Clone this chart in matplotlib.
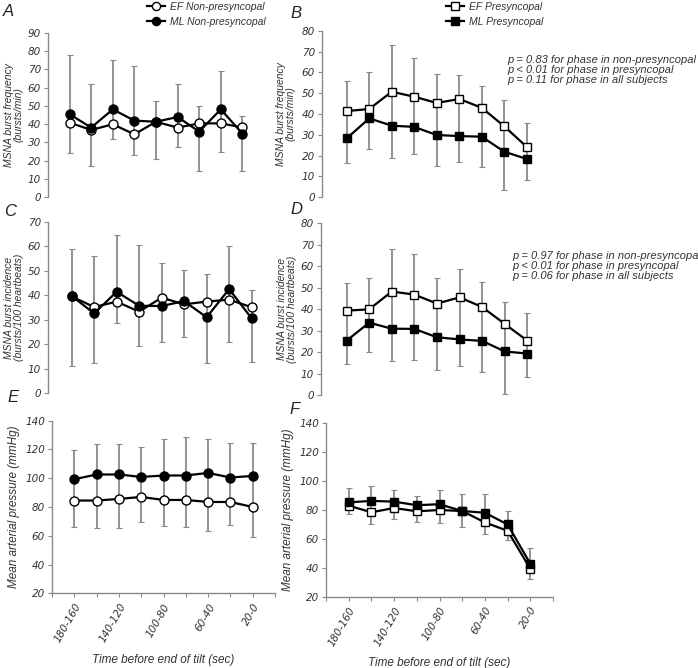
import numpy as np
import matplotlib
matplotlib.use('Agg')
import matplotlib.pyplot as plt

plt.rcParams['font.family'] = ['Liberation Sans', 'DejaVu Sans']
plt.rcParams['font.style'] = 'italic'
plt.rcParams['font.size'] = 8
plt.rcParams['text.color'] = '#333333'

# phases (time before end of tilt, sec)
phases = ['180-160', '160-140', '140-120', '120-100', '100-80',
          '80-60', '60-40', '40-20', '20-0']

# A - MSNA burst frequency, non-presyncopal
a_ef = [40.8, 36.8, 39.9, 34.4, 41.3, 38.1, 40.4, 40.4, 38.2]
a_ml = [45.4, 38.1, 48.1, 41.9, 41.3, 43.9, 35.9, 48.1, 34.8]
a_bar_lo = [24.1, 17.2, 31.8, 23.0, 21.0, 27.3, 14.5, 24.9, 14.5]
a_bar_hi = [78.1, 62.2, 75.0, 72.0, 52.7, 62.0, 50.1, 69.0, 44.6]

# B - MSNA burst frequency, presyncopal
b_ef = [41.4, 42.4, 50.7, 48.3, 45.3, 47.2, 43.0, 34.1, 24.2]
b_ml = [28.3, 37.9, 34.4, 33.8, 29.9, 29.4, 29.1, 21.9, 18.4]
b_bar_lo = [16.3, 23.2, 18.7, 20.6, 15.0, 16.8, 14.4, 3.4, 8.2]
b_bar_hi = [55.7, 60.0, 73.1, 66.9, 59.0, 58.6, 53.3, 46.9, 35.8]

# C - MSNA burst incidence, non-presyncopal
c_ef = [39.5, 35.2, 37.4, 33.3, 39.0, 36.3, 37.4, 38.2, 35.1]
c_ml = [39.7, 32.6, 41.4, 35.7, 35.6, 37.6, 31.0, 42.5, 30.6]
c_bar_lo = [11.1, 12.2, 28.5, 19.3, 20.8, 22.8, 12.5, 20.8, 12.6]
c_bar_hi = [58.8, 56.0, 64.5, 60.5, 53.0, 50.1, 48.6, 59.9, 42.0]

# D - MSNA burst incidence, presyncopal
d_ef = [39.3, 39.9, 48.2, 46.8, 42.6, 45.5, 41.0, 33.1, 25.3]
d_ml = [25.3, 33.7, 30.9, 30.8, 26.9, 25.9, 25.2, 20.3, 19.3]
d_bar_lo = [14.4, 19.9, 15.7, 16.2, 11.5, 13.7, 10.9, 0.6, 8.5]
d_bar_hi = [52.0, 54.4, 67.9, 65.6, 54.7, 58.7, 52.7, 43.2, 38.2]

# E - mean arterial pressure, non-presyncopal
e_ef = [84.5, 84.5, 85.6, 87.0, 84.9, 84.9, 83.5, 83.5, 80.0]
e_ml = [99.3, 102.6, 102.6, 100.9, 101.9, 101.9, 103.7, 100.5, 101.6]
e_bar_lo = [66.4, 65.2, 65.2, 69.4, 67.1, 65.9, 63.1, 67.7, 59.4]
e_bar_hi = [119.3, 123.7, 123.9, 122.0, 127.5, 128.4, 127.0, 124.4, 124.4]

# F - mean arterial pressure, presyncopal
f_ef = [83.0, 78.4, 81.4, 79.1, 80.0, 79.3, 71.4, 65.6, 39.3]
f_ml = [85.3, 86.3, 85.8, 83.3, 84.0, 79.3, 78.1, 70.0, 42.8]
f_bar_lo = [77.2, 70.2, 73.7, 71.9, 71.2, 68.4, 63.7, 59.1, 32.3]
f_bar_hi = [95.1, 96.7, 93.7, 89.5, 93.7, 90.9, 90.9, 79.5, 54.0]

W, H = 698, 668
fig = plt.figure(figsize=(W / 100, H / 100), dpi=100)

GRAY = '#8a8a8a'
TICKFONT = ['DejaVu Sans']


def box(left, top, right, bottom):
    # pixel box -> figure fraction
    return [left / W, 1 - bottom / H, (right - left) / W, (bottom - top) / H]


def panel(px, ef, ml, lo, hi, ylim, ystep, marker, ylabel, label_x,
          xlim=(-1, 9), xaxis=False):
    ax = fig.add_axes(box(*px))
    x = np.arange(len(ef))
    lo = np.array(lo)
    hi = np.array(hi)
    mid = (lo + hi) / 2
    eb = ax.errorbar(x, mid, yerr=(hi - lo) / 2, fmt='none', ecolor=GRAY,
                     elinewidth=1.3, capsize=2.2, capthick=0.8, zorder=1)
    for cap in eb[1]:
        cap.set_color('#555555')
    ms = 6.5 if marker == 'o' else 6.0
    l_ef, = ax.plot(x, ef, '-', marker=marker, color='k', lw=1.6, ms=ms,
                    mfc='white', mec='k', mew=1.0, zorder=3)
    l_ml, = ax.plot(x, ml, '-', marker=marker, color='k', lw=1.6, ms=ms,
                    mfc='k', mec='k', mew=1.0, zorder=3)
    ax.set_xlim(*xlim)
    ax.set_ylim(*ylim)
    ax.set_yticks(np.arange(ylim[0], ylim[1] + 1, ystep))
    for s in ['top', 'right']:
        ax.spines[s].set_visible(False)
    ax.spines['left'].set_color(GRAY)
    ax.spines['left'].set_linewidth(1.0)
    ax.tick_params(axis='y', direction='out', length=3, width=0.8, color=GRAY,
                   labelcolor='#333333', labelsize=7.5, pad=2)
    for lab in ax.get_yticklabels():
        lab.set_fontfamily(TICKFONT)
    two_lines = '\n' in ylabel
    ax.set_ylabel(ylabel, fontsize=7.5 if two_lines else 8.5, color='#333333',
                  linespacing=1.0)
    # label_x is the pixel column of the label's right edge
    ax.yaxis.set_label_coords((label_x - px[0]) / (px[2] - px[0]), 0.5)
    if xaxis:
        ax.spines['bottom'].set_color(GRAY)
        ax.spines['bottom'].set_linewidth(1.0)
        ax.set_xticks(np.arange(-1, 10))
        ax.set_xticklabels([''] + [p if i % 2 == 0 else '' for i, p in enumerate(phases)] + [''],
                           rotation=60, ha='right', rotation_mode='anchor')
        ax.tick_params(axis='x', direction='out', length=3, width=0.8, color=GRAY,
                       labelcolor='#333333', labelsize=7.5, pad=3)
        for lab in ax.get_xticklabels():
            lab.set_fontfamily(TICKFONT)
        ax.set_xlabel('Time before end of tilt (sec)', fontsize=8.5, labelpad=7,
                      color='#333333')
    else:
        ax.spines['bottom'].set_visible(False)
        ax.set_xticks([])
    ax.patch.set_alpha(0)
    return ax, l_ef, l_ml


axA, hA_ef, hA_ml = panel((48, 33, 264, 197), a_ef, a_ml, a_bar_lo, a_bar_hi,
                          (0, 90), 10, 'o', 'MSNA burst frequency\n(bursts/min)', 24)
axB, hB_ef, hB_ml = panel((322, 30.7, 547, 197.3), b_ef, b_ml, b_bar_lo, b_bar_hi,
                          (0, 80), 10, 's', 'MSNA burst frequency\n(bursts/min)', 296,
                          xlim=(-1.1, 8.9))
axC, _, _ = panel((48, 221.7, 273, 393.3), c_ef, c_ml, c_bar_lo, c_bar_hi,
                  (0, 70), 10, 'o', 'MSNA burst incidence\n(bursts/100 heartbeats)', 24,
                  xlim=(-1.05, 8.95))
axD, _, _ = panel((321, 223.3, 547, 395), d_ef, d_ml, d_bar_lo, d_bar_hi,
                  (0, 80), 10, 's', 'MSNA burst incidence\n(bursts/100 heartbeats)', 297,
                  xlim=(-1.13, 8.87))
axE, _, _ = panel((52, 420.7, 275, 593.3), e_ef, e_ml, e_bar_lo, e_bar_hi,
                  (20, 140), 20, 'o', 'Mean arterial pressure (mmHg)', 20, xaxis=True)
axF, _, _ = panel((326, 423.3, 553, 596.7), f_ef, f_ml, f_bar_lo, f_bar_hi,
                  (20, 140), 20, 's', 'Mean arterial pressure (mmHg)', 294, xaxis=True)

# legends
fig.legend([hA_ef, hA_ml], ['EF Non-presyncopal', 'ML Non-presyncopal'],
           loc='upper left', bbox_to_anchor=(147 / W, 1 - 2 / H), frameon=False,
           handlelength=1.7, handletextpad=0.5, labelspacing=0.45, borderpad=0,
           borderaxespad=0, fontsize=7.5, markerscale=0.9)
fig.legend([hB_ef, hB_ml], ['EF Presyncopal', 'ML Presyncopal'],
           loc='upper left', bbox_to_anchor=(446 / W, 1 - 2 / H), frameon=False,
           handlelength=1.7, handletextpad=0.5, labelspacing=0.45, borderpad=0,
           borderaxespad=0, fontsize=7.5, markerscale=0.9)

# statistics
fig.text(507 / W, 1 - 55 / H,
         'p = 0.83 for phase in non-presyncopal\n'
         'p < 0.01 for phase in presyncopal\n'
         'p = 0.11 for phase in all subjects',
         va='top', ha='left', fontsize=8, linespacing=1.0)
fig.text(512 / W, 1 - 251 / H,
         'p = 0.97 for phase in non-presyncopal\n'
         'p < 0.01 for phase in presyncopal\n'
         'p = 0.06 for phase in all subjects',
         va='top', ha='left', fontsize=8, linespacing=1.0)

# panel letters
for letter, (px, py) in zip('ABCDEF', [(8, 12), (296, 13), (10, 212),
                                       (296, 210), (13, 397), (295, 410)]):
    fig.text(px / W, 1 - py / H, letter, fontsize=12, ha='center', va='center',
             color='#222222')

fig.savefig('out.png', dpi=100)
